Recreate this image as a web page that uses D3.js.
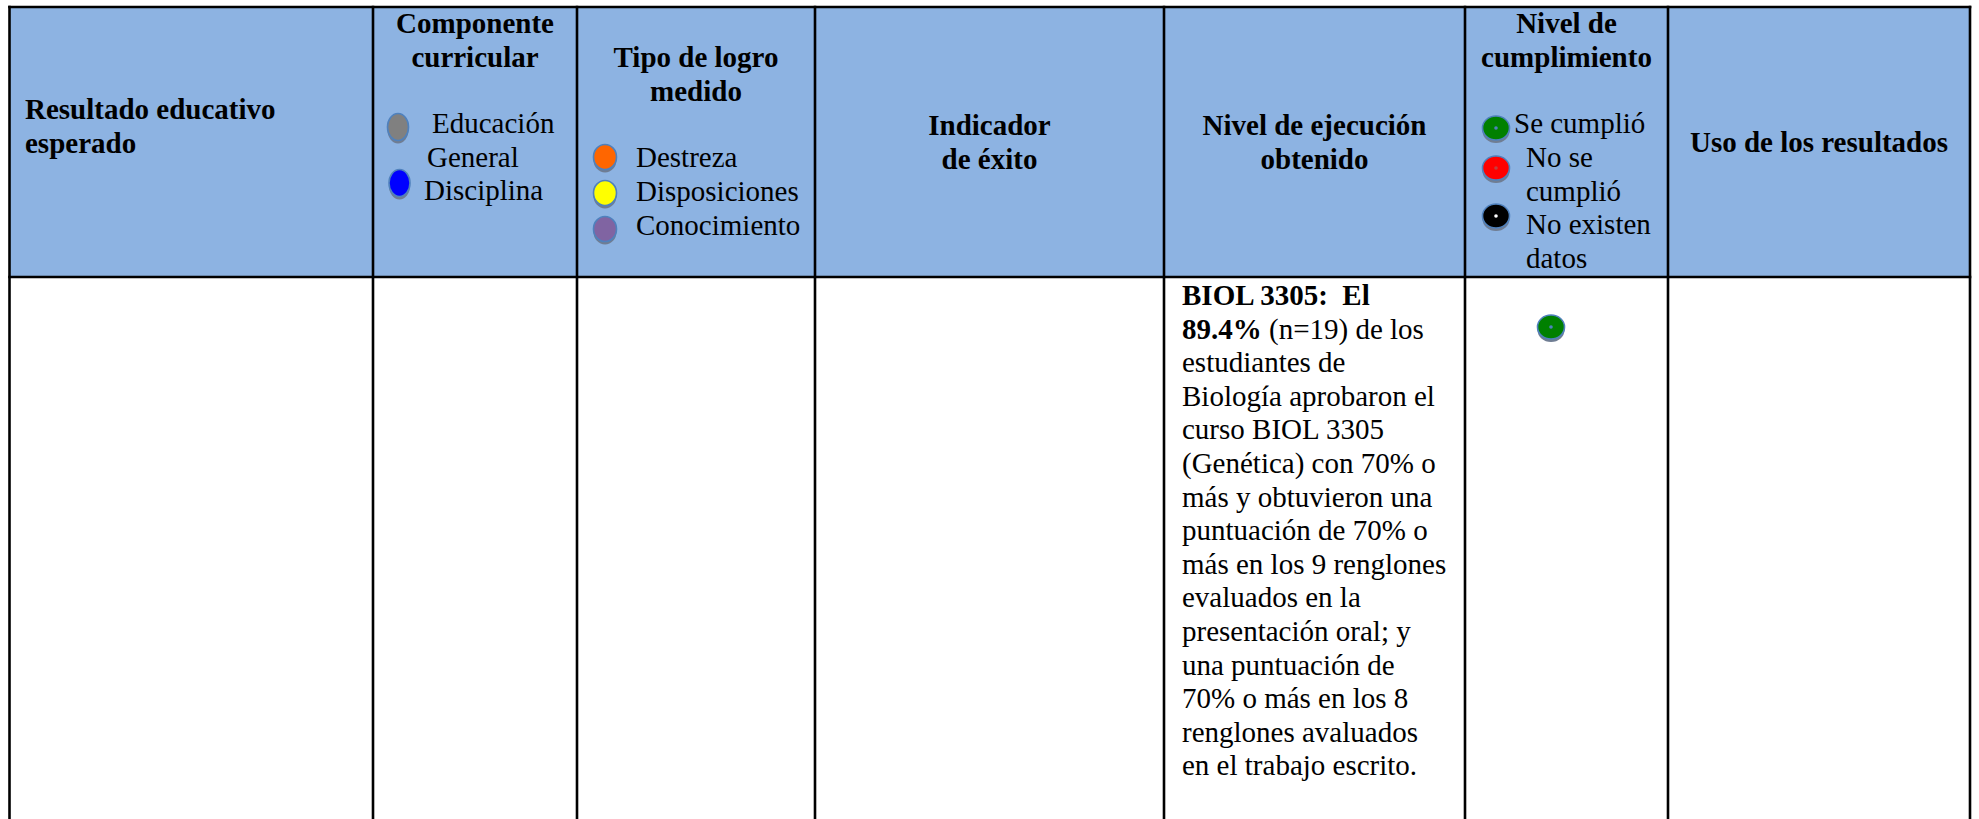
<!DOCTYPE html>
<html>
<head>
<meta charset="utf-8">
<script src="https://cdn.jsdelivr.net/npm/d3@7"></script>
<style>
  html, body { margin: 0; padding: 0; background: #ffffff; }
  svg { display: block; }
  text { font-family: "Liberation Serif", "Times New Roman", serif; fill: #000; }
</style>
</head>
<body>
<svg id="chart" width="1979" height="819"></svg>
<script>
// ---------- DATA ----------
const headerLabels = [
  ["Resultado educativo", "esperado"],
  ["Componente", "curricular"],
  ["Tipo de logro", "medido"],
  ["Indicador", "de éxito"],
  ["Nivel de ejecución", "obtenido"],
  ["Nivel de", "cumplimiento"],
  ["Uso de los resultados"]
];
const componenteLabels = ["Educación", "General", "Disciplina"];
const componenteColors = ["#808080", "#0000FF"];
const logroLabels = ["Destreza", "Disposiciones", "Conocimiento"];
const logroColors = ["#FF6600", "#FFFF00", "#8064A2"];
const cumplimientoLabels = ["Se cumplió", "No se", "cumplió", "No existen", "datos"];
const cumplimientoColors = ["#008000", "#FF0000", "#000000"];
const ejecucionLines = [
  [["BIOL 3305:  El", true]],
  [["89.4%", true], [" (n=19) de los", false]],
  [["estudiantes de", false]],
  [["Biología aprobaron el", false]],
  [["curso BIOL 3305", false]],
  [["(Genética) con 70% o", false]],
  [["más y obtuvieron una", false]],
  [["puntuación de 70% o", false]],
  [["más en los 9 renglones", false]],
  [["evaluados en la", false]],
  [["presentación oral; y", false]],
  [["una puntuación de", false]],
  [["70% o más en los 8", false]],
  [["renglones avaluados", false]],
  [["en el trabajo escrito.", false]]
];
const rowStatus = 0; // index into cumplimientoColors: "Se cumplió"

// ---------- LAYOUT ----------
const W = 1979, H = 819;
const svg = d3.select("#chart");
const x = d3.scaleLinear().domain(d3.range(8)).range([9.5, 373, 577, 815, 1164, 1465, 1668, 1970]);
const topY = 7, headBottom = 277;
const FS = 29, LH = 33.6;
const colCenter = i => (x(i) + x(i + 1)) / 2;

// header background
svg.append("rect")
  .attr("x", x(0)).attr("y", topY)
  .attr("width", x(7) - x(0)).attr("height", headBottom - topY)
  .attr("fill", "#8DB3E2");

// marker helper
function marker(g, cx, cy, rx, ry, color, dot, dotColor) {
  g.append("ellipse").attr("cx", cx).attr("cy", cy + 3).attr("rx", rx).attr("ry", ry)
    .attr("fill", "#6f7d93");
  g.append("ellipse").attr("cx", cx).attr("cy", cy).attr("rx", rx).attr("ry", ry)
    .attr("fill", color).attr("stroke", "#4F81BD").attr("stroke-width", 1.6);
  if (dot) g.append("circle").attr("cx", cx).attr("cy", cy).attr("r", 1.8).attr("fill", dotColor);
}

// header titles
const hg = svg.append("g");
hg.append("g").selectAll("text").data(headerLabels[0]).join("text")
  .attr("x", 25).attr("y", (d, i) => 119 + i * 34)
  .attr("font-size", FS).attr("font-weight", "bold").text(d => d);

const titleBase = {1: 33, 2: 67, 3: 135, 4: 135, 5: 33, 6: 152};
[1, 2, 3, 4, 5, 6].forEach(c => {
  hg.append("g").selectAll("text").data(headerLabels[c]).join("text")
    .attr("x", colCenter(c)).attr("y", (d, i) => titleBase[c] + i * 34)
    .attr("text-anchor", "middle")
    .attr("font-size", FS).attr("font-weight", "bold").text(d => d);
});

// componente legend
const cg = svg.append("g");
const compX = [x(1) + 59, x(1) + 54, x(1) + 51];
const compY = [133, 167, 200];
cg.selectAll("text").data(componenteLabels).join("text")
  .attr("x", (d, i) => compX[i]).attr("y", (d, i) => compY[i])
  .attr("font-size", FS).text(d => d);
const compMarkY = [127, 183];
componenteColors.forEach((c, i) => marker(cg, x(1) + 25 + i * 1.5, compMarkY[i], 10.5, 13.5, c, false));

// logro legend
const lg = svg.append("g");
lg.selectAll("text").data(logroLabels).join("text")
  .attr("x", x(2) + 59).attr("y", (d, i) => 167 + i * 34)
  .attr("font-size", FS).text(d => d);
logroColors.forEach((c, i) => marker(lg, x(2) + 28, 157 + i * 36, 11.5, 12.5, c, false));

// cumplimiento legend
const kg = svg.append("g");
const kX = [x(5) + 49, x(5) + 61, x(5) + 61, x(5) + 61, x(5) + 61];
kg.selectAll("text").data(cumplimientoLabels).join("text")
  .attr("x", (d, i) => kX[i]).attr("y", (d, i) => 133 + i * 33.8)
  .attr("font-size", FS).text(d => d);
const kMarkY = [128, 168, 216];
const kDot = ["#4F81BD", "#c04040", "#ffffff"];
cumplimientoColors.forEach((c, i) => marker(kg, x(5) + 31, kMarkY[i], 13.5, 12, c, true, kDot[i]));

// body text
const bg = svg.append("g");
const lines = bg.selectAll("text").data(ejecucionLines).join("text")
  .attr("x", x(4) + 18).attr("y", (d, i) => 305 + i * LH)
  .attr("font-size", FS).attr("xml:space", "preserve").style("white-space", "pre");
lines.selectAll("tspan").data(d => d).join("tspan")
  .attr("font-weight", d => d[1] ? "bold" : "normal").text(d => d[0]);

// body status marker
marker(bg, x(5) + 86, 327, 13.5, 12, cumplimientoColors[rowStatus], true, kDot[rowStatus]);

// grid lines
const gg = svg.append("g").attr("stroke", "#000").attr("stroke-width", 2.6);
gg.selectAll("line.v").data(d3.range(8)).join("line")
  .attr("x1", d => x(d)).attr("x2", d => x(d)).attr("y1", topY - 1.3).attr("y2", H);
[topY, headBottom].forEach(y => {
  gg.append("line").attr("x1", x(0) - 1.3).attr("x2", x(7) + 1.3).attr("y1", y).attr("y2", y);
});
</script>
</body>
</html>
